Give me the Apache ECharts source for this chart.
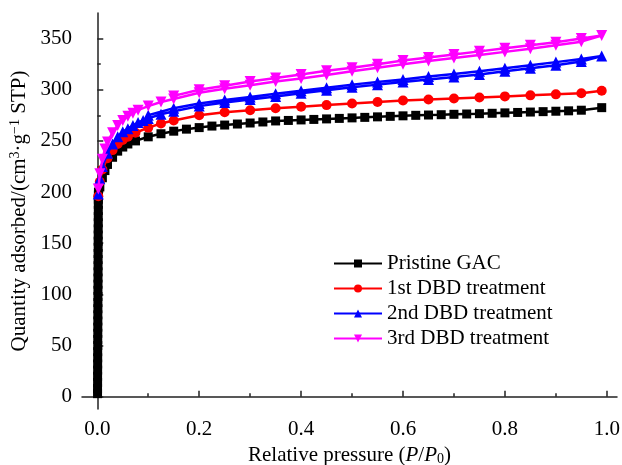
<!DOCTYPE html>
<html>
<head>
<meta charset="utf-8">
<script src="https://cdn.jsdelivr.net/npm/echarts@6/dist/echarts.min.js"></script>
<style>html,body{margin:0;padding:0;background:#fff}#c{width:622px;height:465px}</style>
</head>
<body>
<div id="c"></div>
<script>
// ---- data ----
const seriesNames = ['Pristine GAC', '1st DBD treatment', '2nd DBD treatment', '3rd DBD treatment'];
const xTicks = [0, 0.2, 0.4, 0.6, 0.8, 1.0];
const xMinorTicks = [0.1, 0.3, 0.5, 0.7, 0.9];
const yTicks = [0, 50, 100, 150, 200, 250, 300, 350];
const yMinorTicks = [25, 75, 125, 175, 225, 275, 325];

const gacP = [0.0005,0.0005,0.0006,0.0006,0.0007,0.0007,0.0008,0.0008,0.0009,0.0009,0.001,0.001,0.0011,0.0011,0.0012,0.0012,0.0013,0.0013,0.0014,0.0014,0.0015,0.0015,0.0016,0.0016,0.0017,0.0017,0.0018,0.0018,0.0019,0.0019,0.002,0.002,0.0021,0.0022,0.0023,
  0.005,0.01,0.015,0.02,0.03,0.04,0.05,0.06,0.075,0.1,0.125,0.15,0.175,0.2,0.225,0.25,0.275,0.3,0.325,0.35,0.375,0.4,0.425,0.45,0.475,0.5,0.525,0.55,0.575,0.6,0.625,0.65,0.675,0.7,0.725,0.75,0.775,0.8,0.825,0.85,0.875,0.9,0.925,0.95,0.99];
const gacQ = [3,8,14,20,26,32,38,44,50,56,62,68,74,80,86,92,98,104,110,116,122,128,134,140,146,152,158,164,170,176,182,188,193,197,200,
  205,214,221,227,234,240,244,247,250,254,257,259.5,261.5,263,264.5,265.5,266.5,267.5,268.5,269.5,270,270.5,271,271.5,272,272.5,273,273.5,274,274.5,275,275.3,275.6,276,276.3,276.6,277,277.4,277.8,278.2,278.6,279,279.4,280,282.5];

const dbd1P = [0.002,0.005,0.01,0.02,0.03,0.04,0.05,0.06,0.075,0.1,0.125,0.15,0.2,0.25,0.3,0.35,0.4,0.45,0.5,0.55,0.6,0.65,0.7,0.75,0.8,0.85,0.9,0.95,0.99];
const dbd1Q = [196,210,222,233,241,247,251,254,258,263,267,270,275,278,280,282,283.5,285,286.5,288,289.5,290.5,291.5,292.5,293.5,294.5,295.5,296.5,299];

const dbd2AdsP = [0.002,0.005,0.01,0.02,0.03,0.04,0.05,0.06,0.07,0.08,0.09,0.1,0.125,0.15,0.2,0.25,0.3,0.35,0.4,0.45,0.5,0.55,0.6,0.65,0.7,0.75,0.8,0.85,0.9,0.95,0.99];
const dbd2AdsQ = [198,213,225,238,247,254,259,262,265,268,270,272,276,279,284,287.5,290.5,293.5,296.5,299.5,302.5,305,307.5,310,312.5,315,318,321,324,327.5,333];
const dbd2DesP = [0.95,0.9,0.85,0.8,0.75,0.7,0.65,0.6,0.55,0.5,0.45,0.4,0.35,0.3,0.25,0.2,0.15,0.1];
const dbd2DesQ = [330,327,324,321,318,315.5,313,310,307.5,305,302,299,296,293,290,286.5,282,275];

const dbd3AdsP = [0.002,0.005,0.01,0.015,0.02,0.03,0.04,0.05,0.06,0.07,0.08,0.1,0.125,0.15,0.2,0.25,0.3,0.35,0.4,0.45,0.5,0.55,0.6,0.65,0.7,0.75,0.8,0.85,0.9,0.95,0.99];
const dbd3AdsQ = [203,218,232,242,249,258,265,270,274,277,280,284,288,291,297,301,304.5,308,311,314.5,318,321.5,325,328,331,334,337,340,343.5,347,353];
const dbd3DesP = [0.95,0.9,0.85,0.8,0.75,0.7,0.65,0.6,0.55,0.5,0.45,0.4,0.35,0.3,0.25,0.2,0.15];
const dbd3DesQ = [350,346.5,343.5,340.5,337.5,334.5,331.5,328.5,325,321.5,318.5,315,311.5,308,304,300,294];

const colors = ['#000000', '#ff0000', '#0000ff', '#ff00ff'];
// ---- build ----
function pairs(p, q) { return p.map((v, i) => [v, q[i]]); }
const curves = [
  pairs(gacP, gacQ),
  pairs(dbd1P, dbd1Q),
  pairs(dbd2AdsP, dbd2AdsQ).concat(pairs(dbd2DesP, dbd2DesQ)),
  pairs(dbd3AdsP, dbd3AdsQ).concat(pairs(dbd3DesP, dbd3DesQ))
];
const symbols = ['rect', 'circle', 'triangle', 'triangle'];
const symbolSizes = [9, 10, 11, 11];
const symbolRot = [0, 0, 0, 180];

const FONT = '"Liberation Serif", "Times New Roman", serif';
const FS = 21;
const axisColor = '#222';
const chart = echarts.init(document.getElementById('c'), null, {renderer: 'canvas'});

const option = {
  animation: false,
  backgroundColor: '#fff',
  grid: {left: 82, right: 5, top: 13, bottom: 56, containLabel: false, outerBoundsMode: 'none'},
  legend: {
    orient: 'vertical', left: 328, top: 248,
    itemWidth: 48, itemHeight: 10, itemGap: 4,
    textStyle: {fontFamily: FONT, fontSize: FS, color: '#000', lineHeight: 20},
    data: seriesNames
  },
  xAxis: [{
    type: 'value', min: -0.03, max: 1.02,
    name: 'Relative pressure ({i|P}/{i|P}{sub|0})',
    nameLocation: 'middle', nameGap: 33,
    nameTextStyle: {fontFamily: FONT, fontSize: FS, color: '#000',
      rich: {i: {fontFamily: FONT, fontSize: FS, fontStyle: 'italic', color: '#000'},
             sub: {fontFamily: FONT, fontSize: 14, color: '#000', verticalAlign: 'bottom', padding: [8, 0, 0, 0]}}},
    axisLine: {lineStyle: {color: axisColor, width: 1.5}},
    axisTick: {inside: true, length: 6, lineStyle: {color: axisColor, width: 1.5}, customValues: xTicks},
    axisLabel: {fontFamily: FONT, fontSize: FS, color: '#000', margin: 10, customValues: xTicks,
      formatter: v => v.toFixed(1)},
    splitLine: {show: false}
  }, {
    type: 'value', min: -0.03, max: 1.02, position: 'bottom',
    axisLine: {show: false},
    axisTick: {inside: true, length: 3.5, lineStyle: {color: axisColor, width: 1.5}, customValues: xMinorTicks},
    axisLabel: {show: false}, splitLine: {show: false}
  }],
  yAxis: [{
    type: 'value', min: -12, max: 375,
    name: 'Quantity adsorbed/(cm{sup|3}·g{sup|−1} STP)',
    nameLocation: 'middle', nameGap: 47, nameRotate: 90,
    nameTextStyle: {fontFamily: FONT, fontSize: FS, color: '#000',
      rich: {sup: {fontFamily: FONT, fontSize: 14, color: '#000', verticalAlign: 'top', padding: [0, 0, 8, 0]}}},
    axisLine: {show: true, lineStyle: {color: axisColor, width: 1.5}},
    axisTick: {show: true, inside: true, length: 6, lineStyle: {color: axisColor, width: 1.5}, customValues: yTicks},
    axisLabel: {fontFamily: FONT, fontSize: FS, color: '#000', margin: 10, customValues: yTicks},
    splitLine: {show: false}
  }, {
    type: 'value', min: -12, max: 375, position: 'left',
    axisLine: {show: false},
    axisTick: {show: true, inside: true, length: 3.5, lineStyle: {color: axisColor, width: 1.5}, customValues: yMinorTicks},
    axisLabel: {show: false}, splitLine: {show: false}
  }],
  series: curves.map((d, i) => ({
    name: seriesNames[i], type: 'line', data: d,
    xAxisIndex: 0, yAxisIndex: 0,
    symbol: symbols[i], symbolSize: symbolSizes[i], symbolRotate: symbolRot[i],
    showAllSymbol: true,
    lineStyle: {color: colors[i], width: 2.5},
    itemStyle: {color: colors[i]},
    z: 2 + i
  }))
};
chart.setOption(option);
</script>
</body>
</html>
